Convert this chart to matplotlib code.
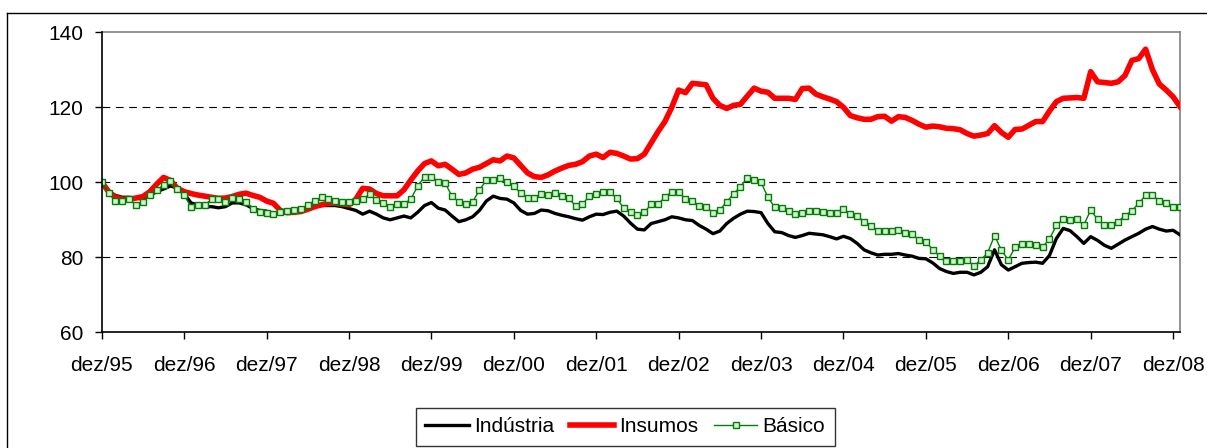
import numpy as np
import matplotlib
matplotlib.use("Agg")
import matplotlib.pyplot as plt
from matplotlib.lines import Line2D

# monthly index, dez/95 = 100 (dez/95 .. jan/09)
industria = [100, 97.5, 96.5, 96, 96, 95.8, 95.5, 96.5, 97.5, 98.2, 99, 98.5,
             97, 94.5, 94, 93.5, 93.5, 93.2, 93.5, 94.5, 94.5, 94, 93, 92.5,
             92.3, 91.5, 91.8, 92, 92.3, 92.8, 93.2, 93.5, 93.8, 93.8, 93.8, 93.5,
             93, 92.5, 91.5, 92.3, 91.5, 90.5, 90, 90.5, 91, 90.5, 92, 93.8,
             94.6, 93.1, 92.6, 91, 89.5, 90, 90.8, 92.5, 95, 96.3, 95.7, 95.5,
             94.5, 92.5, 91.5, 91.7, 92.6, 92.4, 91.7, 91.2, 90.8, 90.3, 89.9, 90.8,
             91.5, 91.4, 92, 92.3, 91, 89.1, 87.5, 87.3, 89, 89.5, 90, 90.8,
             90.5, 90, 89.8, 88.5, 87.5, 86.3, 87, 89, 90.4, 91.5, 92.3, 92.2,
             91.9, 89, 86.8, 86.6, 85.8, 85.3, 85.8, 86.4, 86.2, 86, 85.5, 84.9,
             85.6, 85, 83.7, 82, 81.2, 80.6, 80.8, 80.8, 81, 80.6, 80.3, 79.7,
             79.6, 78.5, 77, 76.2, 75.7, 76, 76, 75.3, 76, 77.5, 82, 78,
             76.6, 77.5, 78.4, 78.6, 78.7, 78.4, 80.5, 85, 87.7, 87.1, 85.5, 83.7,
             85.5, 84.5, 83.2, 82.4, 83.5, 84.6, 85.5, 86.4, 87.5, 88.2, 87.5, 87,
             87.2, 86.0]

insumos = [100, 97.5, 96, 95.5, 95.5, 95.8, 96.2, 97.5, 99.5, 101.3, 100.5, 98.4,
           97.5, 97, 96.6, 96.3, 96, 95.7, 95.8, 96.2, 96.8, 97.1, 96.5, 96,
           95, 94.4, 92.5, 91.9, 92, 92.2, 92.8, 93.5, 94, 94.4, 94.4, 94.2,
           94, 95.5, 98.4, 98.2, 97, 96.4, 96.4, 96.4, 98, 100.6, 103, 105,
           105.7, 104.4, 104.8, 103.5, 102.1, 102.5, 103.5, 104, 105, 106, 105.7, 107,
           106.5, 104.5, 102.5, 101.5, 101.3, 102, 103, 103.8, 104.5, 104.8, 105.5, 107,
           107.5, 106.6, 108, 107.7, 107, 106.2, 106.3, 107.5, 110.5, 113.5, 116.2, 120,
           124.6, 123.9, 126.4, 126.2, 126, 122.4, 120.5, 119.7, 120.5, 120.8, 123, 125.1,
           124.3, 124, 122.4, 122.4, 122.4, 122.1, 125, 125.1, 123.5, 122.8, 122.2, 121.5,
           120, 117.8, 117.2, 116.8, 116.8, 117.5, 117.6, 116.3, 117.5, 117.3, 116.5, 115.5,
           114.7, 115, 114.8, 114.4, 114.3, 114, 113, 112.3, 112.6, 113, 115.1, 113.3,
           112, 114.1, 114.2, 115.2, 116.2, 116.2, 119, 121.5, 122.4, 122.5, 122.6, 122.4,
           129.5, 126.8, 126.6, 126.4, 126.8, 128.5, 132.5, 133, 135.5, 130, 126.2, 124.6,
           122.8, 120.2]

basico = [100, 97.1, 95.1, 95.1, 95.5, 93.9, 94.8, 96.6, 97.9, 99.3, 100.4, 98.1,
          96.5, 93.5, 93.9, 93.9, 95.5, 95.5, 94.8, 95.9, 95.5, 94.8, 92.8, 92.2,
          91.9, 91.5, 92.2, 92.4, 92.6, 93.0, 94.0, 95.0, 96.0, 95.5, 95.0, 94.7,
          94.7, 95.0, 95.5, 96.8, 95.3, 94.4, 93.5, 94.2, 94.2, 95.5, 99, 101.5,
          101.5, 100.2, 99.8, 96.3, 94.8, 94.2, 94.8, 97.9, 100.6, 100.6, 101.1, 100.2,
          99, 97.1, 95.7, 95.7, 96.9, 96.5, 97.1, 96.3, 95.7, 93.7, 94.2, 96.3,
          96.9, 97.4, 97.4, 95.7, 93.1, 92.2, 91.2, 92.0, 94.1, 94.2, 96.0, 97.5,
          97.5, 95.5, 95.0, 93.8, 93.4, 91.9, 92.6, 94.8, 96.9, 98.8, 101.2, 100.5,
          100.0, 96.0, 93.3, 93.1, 92.4, 91.5, 91.9, 92.4, 92.4, 92.1, 91.8, 91.8,
          92.8, 91.6, 91.1, 89.5, 88.4, 87.1, 87.1, 86.9, 87.2, 86.6, 86.2, 84.6,
          84.2, 82.0, 80.3, 79.1, 79.1, 79.1, 79.3, 77.7, 79.3, 81.2, 85.8, 81.9,
          79.3, 82.7, 83.5, 83.6, 83.3, 82.7, 84.9, 88.5, 90.2, 89.9, 90.1, 88.6,
          92.6, 90.1, 88.6, 88.6, 89.5, 91.1, 92.4, 94.4, 96.5, 96.5, 95.1, 94.4,
          93.5, 93.3]

tick_labels = ["dez/95", "dez/96", "dez/97", "dez/98", "dez/99", "dez/00", "dez/01",
               "dez/02", "dez/03", "dez/04", "dez/05", "dez/06", "dez/07", "dez/08"]
y_ticks = [60, 80, 100, 120, 140]

plt.rcParams["font.family"] = ["Liberation Sans", "DejaVu Sans"]
plt.rcParams["font.size"] = 15

fig = plt.figure(figsize=(12.07, 4.48), dpi=100)
ax = fig.add_axes([0.0843, 0.2583, 0.8933, 0.6696])

x = np.arange(len(industria))

for v in [80, 100, 120]:
    ax.axhline(v, color="black", lw=0.8, ls=(0, (7, 5)), zorder=1)

ax.plot(x, industria, color="black", lw=2.4, label="Indústria", zorder=3)
ax.plot(x, insumos, color="#ff0000", lw=4.0, label="Insumos", zorder=4)
ax.plot(x, basico, color="#008000", lw=1.0, marker="s", ms=4.2,
        mfc="#d8ecd8", mec="#008000", mew=1.0, label="Básico", zorder=5)

ax.set_xlim(0, 157)
ax.set_ylim(60, 140)
ax.set_yticks(y_ticks)
ax.set_xticks(np.arange(0, 157, 12))
ax.set_xticklabels(tick_labels)

ax.spines["left"].set_color("black")
ax.spines["bottom"].set_color("black")
ax.spines["top"].set_color("#808080")
ax.spines["right"].set_color("#808080")
for s in ax.spines.values():
    s.set_linewidth(1.2)
ax.spines["left"].set_zorder(6)

ax.tick_params(axis="y", direction="out", length=5, width=1, pad=8, labelsize=15)
ax.tick_params(axis="x", direction="out", length=5, width=1, pad=12, labelsize=15)

leg = fig.legend(loc="center", bbox_to_anchor=(0.518, 0.047), ncol=3,
                 frameon=True, fancybox=False, edgecolor="black", fontsize=15,
                 handlelength=2.1, handletextpad=0.25, columnspacing=0.75,
                 borderpad=0.45)
leg.get_frame().set_linewidth(1.0)

# outer chart border (only top and left edges fall inside the picture)
fig.add_artist(Line2D([7 / 1207, 1.0], [1 - 13 / 448, 1 - 13 / 448],
                      transform=fig.transFigure, color="black", lw=1.0))
fig.add_artist(Line2D([7 / 1207, 7 / 1207], [0.0, 1 - 13 / 448],
                      transform=fig.transFigure, color="black", lw=1.0))

fig.savefig("out.png", dpi=100)
